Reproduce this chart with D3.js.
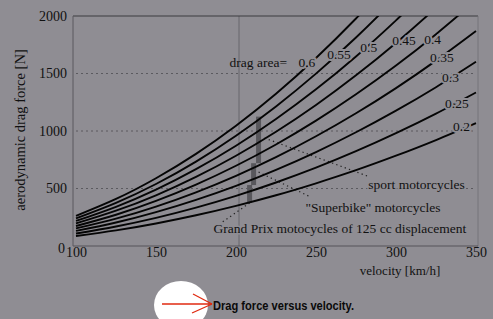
<!DOCTYPE html>
<html><head><meta charset="utf-8">
<script src="https://cdn.jsdelivr.net/npm/d3@7"></script>
<style>html,body{margin:0;padding:0;background:#8f8d93;overflow:hidden}</style>
</head><body>
<svg id="c" width="493" height="319"></svg>
<script>
// ---- data ----
const velocities = [100,125,150,175,200,225,250,275,300,325,350];
const dragAreas = [0.2,0.25,0.3,0.35,0.4,0.45,0.5,0.55,0.6];
const forceA020 = [87,136,196,267,349,441,545,659,785,921,1068];
const forceA025 = [109,170,245,334,436,552,681,824,981,1151,1335];
const forceA030 = [131,204,294,401,523,662,817,989,1177,1381,1602];
const forceA035 = [153,238,343,467,610,772,954,1154,1373,1612,1869];
const forceA040 = [174,272,392,534,698,883,1090,1319,1569,1842,2136];
const forceA045 = [196,307,441,601,785,993,1226,1484,1766,2072,2403];
const forceA050 = [218,341,490,668,872,1104,1362,1648,1962,2302,2670];
const forceA055 = [240,375,539,734,959,1214,1499,1813,2158,2533,2937];
const forceA060 = [262,409,589,801,1046,1324,1635,1978,2354,2763,3204];
const curveLabels = ["0.2","0.25","0.3","0.35","0.4","0.45","0.5","0.55","0.6"];
const labelVel = [335.7,330.7,328.8,321.3,317.6,297.6,277.7,257,239];
const labelForce = [1035,1243,1461,1635,1800,1791,1722,1661,1600];
const xTicks = [100,150,200,250,300,350];
const yTicks = [0,500,1000,1500,2000];
const gridForces = [500,1000,1500];
const gridVels = [200];
// speed/force ranges of motorcycle classes
const classNames = ["sport motorcycles","\"Superbike\" motorcycles","Grand Prix motocycles of 125 cc displacement"];
const classVel = [214.1,211,208.5];
const classFmin = [720,530,375];
const classFmax = [1125,720,530];
const leaderFrom = [[217.8,939],[214.1,643],[208.5,374]];
const leaderTo = [[282,609],[245.3,435],[191.6,209]];
const classLabelPos = [[282.7,539],[243.4,339],[186,148]];
const dragAreaTitle = "drag area=";
const dragAreaTitlePos = [196,1600];
const xTitle = "velocity [km/h]";
const yTitle = "aerodynamic drag force [N]";
const caption = "Drag force versus velocity.";

const seriesForces = [forceA020,forceA025,forceA030,forceA035,forceA040,forceA045,forceA050,forceA055,forceA060];

// ---- drawing ----
const BG = "#8f8d93";
const svg = d3.select("#c");
svg.append("rect").attr("width",493).attr("height",319).attr("fill",BG);

const x = d3.scaleLinear().domain([100,350]).range([76,476]);
const y = d3.scaleLinear().domain([0,2000]).range([246,16]);
const serif = "'Liberation Serif','Times New Roman',serif";

svg.append("clipPath").attr("id","pc").append("rect")
  .attr("x",x(100)-2).attr("y",y(2000)).attr("width",x(350)-x(100)+3).attr("height",y(0)-y(2000));

// grid
svg.append("g").selectAll("line").data(gridForces).join("line")
  .attr("x1",x(100)).attr("x2",x(350)).attr("y1",d=>y(d)).attr("y2",d=>y(d))
  .attr("stroke","#4e4d52").attr("stroke-width",0.8).attr("stroke-dasharray","2,3");
svg.append("g").selectAll("line").data(gridVels).join("line")
  .attr("x1",d=>x(d)+3).attr("x2",d=>x(d)+3).attr("y1",y(2000)).attr("y2",y(0))
  .attr("stroke","#5e5d63").attr("stroke-width",0.8);

// frame
const fr = svg.append("g").attr("fill","none");
fr.append("line").attr("x1",x(100)-3).attr("x2",x(350)+2).attr("y1",y(2000)).attr("y2",y(2000)).attr("stroke","#3d3c41").attr("stroke-width",1.2);
fr.append("line").attr("x1",x(100)-3).attr("x2",x(100)-3).attr("y1",y(2000)).attr("y2",y(0)).attr("stroke","#5a595e").attr("stroke-width",1);
fr.append("line").attr("x1",x(350)+2).attr("x2",x(350)+2).attr("y1",y(2000)).attr("y2",y(0)).attr("stroke","#707075").attr("stroke-width",0.8);
fr.append("line").attr("x1",x(100)-3).attr("x2",x(350)+2).attr("y1",y(0)).attr("y2",y(0)).attr("stroke","#56555a").attr("stroke-width",1.2);

// leader lines
svg.append("g").selectAll("line").data(leaderFrom).join("line")
  .attr("x1",d=>x(d[0])).attr("y1",d=>y(d[1]))
  .attr("x2",(d,i)=>x(leaderTo[i][0])).attr("y2",(d,i)=>y(leaderTo[i][1]))
  .attr("stroke","#222").attr("stroke-width",1.2).attr("stroke-dasharray","1.3,3.2");

// class range bars
svg.append("g").selectAll("rect").data(classVel).join("rect")
  .attr("x",d=>x(d)-2.5).attr("width",5)
  .attr("y",(d,i)=>y(classFmax[i])).attr("height",(d,i)=>y(classFmin[i])-y(classFmax[i]))
  .attr("fill","#58575c");

// curves
const line = d3.line().x((d,i)=>x(velocities[i])).y(d=>y(d)).curve(d3.curveNatural);
svg.append("g").attr("clip-path","url(#pc)").selectAll("path").data(seriesForces).join("path")
  .attr("d",line).attr("fill","none").attr("stroke","#050505").attr("stroke-width",1.9);

// curve labels with halo to break lines
svg.append("g").selectAll("text").data(curveLabels).join("text")
  .attr("x",(d,i)=>x(labelVel[i])).attr("y",(d,i)=>y(labelForce[i]))
  .attr("dominant-baseline","central")
  .attr("font-family",serif).attr("font-size",13.5).attr("fill","#111")
  .attr("stroke",BG).attr("stroke-width",4).attr("paint-order","stroke")
  .text(d=>d);

svg.append("text").attr("x",x(dragAreaTitlePos[0])).attr("y",y(dragAreaTitlePos[1]))
  .attr("dominant-baseline","central").attr("font-family",serif).attr("font-size",13.5).attr("fill","#111")
  .text(dragAreaTitle);

// class labels
svg.append("g").selectAll("text").data(classNames).join("text")
  .attr("x",(d,i)=>x(classLabelPos[i][0])).attr("y",(d,i)=>y(classLabelPos[i][1]))
  .attr("dominant-baseline","central")
  .attr("font-family",serif).attr("font-size",13.5).attr("fill","#111")
  .attr("stroke",BG).attr("stroke-width",3).attr("paint-order","stroke")
  .text(d=>d);

// axes
const ax = svg.append("g").attr("transform",`translate(0,${y(0)})`)
  .call(d3.axisBottom(x).tickValues(xTicks).tickSize(0).tickPadding(1).tickFormat(d3.format("d")));
ax.select(".domain").remove();
ax.selectAll("text").attr("font-family",serif).attr("font-size",14).attr("fill","#111");

const ay = svg.append("g").attr("transform",`translate(${x(100)-9},0)`)
  .call(d3.axisLeft(y).tickValues(yTicks).tickSize(0).tickPadding(0).tickFormat(d3.format("d")));
ay.select(".domain").remove();
ay.selectAll("text").attr("font-family",serif).attr("font-size",14).attr("fill","#111");
ay.selectAll(".tick").filter(d=>d===0).select("text").attr("dy","0.45em").attr("dx","-2");

svg.append("text").attr("x",400).attr("y",270).attr("text-anchor","middle").attr("dominant-baseline","central")
  .attr("font-family",serif).attr("font-size",13).attr("fill","#111").text(xTitle);
svg.append("text").attr("transform","translate(25,130) rotate(-90)").attr("text-anchor","middle")
  .attr("font-family",serif).attr("font-size",14.5).attr("fill","#111").text(yTitle);

// caption with white blob and red arrow
svg.append("ellipse").attr("cx",181).attr("cy",305).attr("rx",27).attr("ry",24).attr("fill","#fff");
const ar = svg.append("g").attr("stroke","#e02a10").attr("stroke-width",1.3).attr("fill","none");
ar.append("line").attr("x1",162).attr("y1",304).attr("x2",212).attr("y2",304);
ar.append("line").attr("x1",193).attr("y1",294).attr("x2",212).attr("y2",304);
ar.append("line").attr("x1",192).attr("y1",313).attr("x2",212).attr("y2",304);
svg.append("text").attr("x",213).attr("y",305).attr("dominant-baseline","central")
  .attr("font-family","'Liberation Sans',Arial,sans-serif").attr("font-weight","bold").attr("font-size",13)
  .attr("textLength",141).attr("lengthAdjust","spacingAndGlyphs").attr("fill","#0a0a0a").text(caption);
</script>
</body></html>
